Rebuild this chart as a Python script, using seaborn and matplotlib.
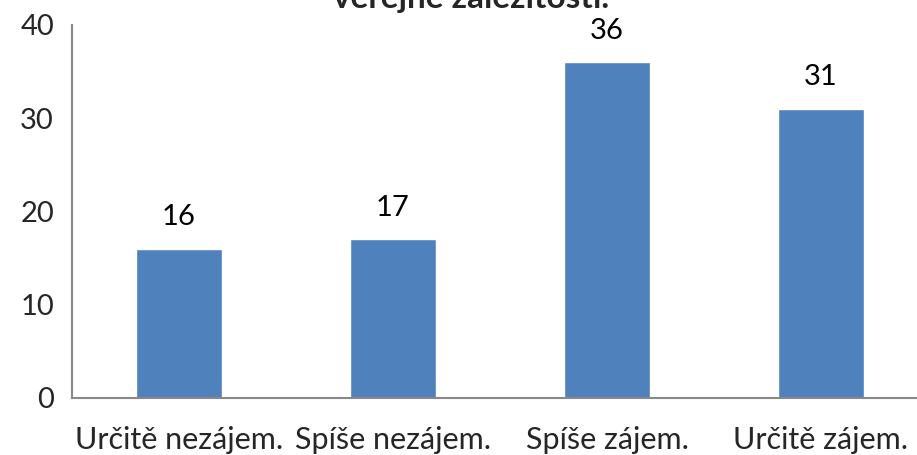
import matplotlib
matplotlib.use("Agg")
import matplotlib.pyplot as plt
import seaborn as sns
import pandas as pd

# data
categories = ["Určitě nezájem.", "Spíše nezájem.", "Spíše zájem.", "Určitě zájem."]
counts = [16, 17, 36, 31]
title = "veřejné záležitosti."

sns.set_style("white")
plt.rcParams['font.family'] = ['Lato', 'DejaVu Sans']

df = pd.DataFrame({"kategorie": categories, "pocet": counts})

fig = plt.figure(figsize=(9.17, 4.55), dpi=100)
ax = fig.add_axes([72 / 917, 1 - 398 / 455, 856 / 917, (398 - 25) / 455])

sns.barplot(data=df, x="kategorie", y="pocet", color="#4F81BD", width=0.4,
            saturation=1, ax=ax)

for i, v in enumerate(counts):
    ax.text(i, v + 2, str(v), ha="center", va="bottom", fontsize=21, color="black")

ax.set_xlim(-0.5, 3.5)
ax.set_ylim(0, 40)
ax.set_yticks([0, 10, 20, 30, 40])
ax.set_xticks([-0.5, 0.5, 1.5, 2.5, 3.5], minor=False)
ax.set_xticklabels([])
ax.set_xticks(range(4), minor=True)
ax.set_xticklabels(categories, minor=True)
ax.tick_params(axis="x", which="minor", length=0, pad=20, labelsize=22)
ax.tick_params(axis="x", which="major", length=8, color="#888888", width=1.5)
ax.tick_params(axis="y", length=7, color="#888888", width=1.5, labelsize=21, pad=6)
ax.set_xlabel("")
ax.set_ylabel("")

for side in ["top", "right"]:
    ax.spines[side].set_visible(False)
for side in ["left", "bottom"]:
    ax.spines[side].set_color("#888888")
    ax.spines[side].set_linewidth(1.5)

fig.text(471 / 917, 1 - 8 / 455, title, ha="center", va="baseline",
         fontsize=24, fontweight="bold")

fig.savefig("out.png", dpi=100)
